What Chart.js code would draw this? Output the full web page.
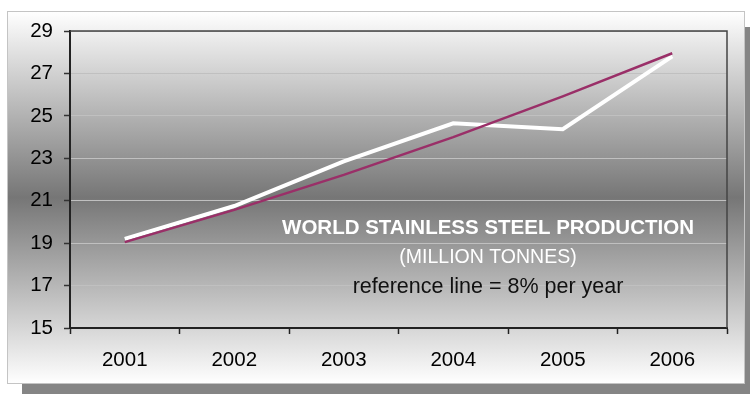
<!DOCTYPE html>
<html>
<head>
<meta charset="utf-8">
<script src="https://cdn.jsdelivr.net/npm/chart.js@4/dist/chart.umd.min.js"></script>
<style>
html,body{margin:0;padding:0;background:#fff;}
#wrap{width:750px;height:394px;position:relative;}
</style>
</head>
<body>
<div id="wrap"><canvas id="c" width="750" height="394"></canvas></div>
<script>
const years = ['2001','2002','2003','2004','2005','2006'];
const production = [19.2, 20.75, 22.85, 24.65, 24.37, 27.8];
const referenceLine = [19.05, 20.57, 22.22, 24.0, 25.92, 27.95];
const yTicks = [15, 17, 19, 21, 23, 25, 27, 29];
const titleLines = ['WORLD STAINLESS STEEL PRODUCTION', '(MILLION TONNES)', 'reference line = 8% per year'];

const FONT = '"Liberation Sans", Arial, Helvetica, sans-serif';

const framePlugin = {
  id: 'frame',
  beforeDraw(chart) {
    const ctx = chart.ctx;
    ctx.save();
    ctx.fillStyle = '#ffffff';
    ctx.fillRect(0, 0, 750, 394);
    ctx.fillStyle = '#858585';
    ctx.fillRect(745, 27, 6, 368);
    ctx.fillRect(22, 384, 729, 11);
    const g = ctx.createLinearGradient(0, 11, 0, 384);
    g.addColorStop(0, '#ffffff');
    g.addColorStop(0.5, '#767676');
    g.addColorStop(1, '#ffffff');
    ctx.fillStyle = g;
    ctx.fillRect(7, 11, 738, 373);
    ctx.strokeStyle = '#c4c4c4';
    ctx.lineWidth = 1;
    ctx.strokeRect(7.5, 11.5, 737, 372);
    ctx.restore();
  },
  afterDatasetsDraw(chart) {
    const ctx = chart.ctx;
    const a = chart.chartArea;
    ctx.save();
    ctx.strokeStyle = '#444444';
    ctx.lineWidth = 1.5;
    ctx.beginPath();
    ctx.moveTo(a.left, a.top);
    ctx.lineTo(a.right, a.top);
    ctx.lineTo(a.right, a.bottom);
    ctx.stroke();
    ctx.textAlign = 'center';
    ctx.textBaseline = 'alphabetic';
    const cx = 488;
    ctx.fillStyle = '#ffffff';
    ctx.font = 'bold 20.5px ' + FONT;
    ctx.fillText(titleLines[0], cx, 234);
    ctx.font = '19.5px ' + FONT;
    ctx.fillText(titleLines[1], cx, 263);
    ctx.fillStyle = '#111111';
    ctx.font = '21.5px ' + FONT;
    ctx.fillText(titleLines[2], cx, 292.5);
    ctx.restore();
  }
};

new Chart(document.getElementById('c'), {
  type: 'line',
  data: {
    labels: years,
    datasets: [
      {
        label: 'reference line',
        data: referenceLine,
        borderColor: '#9a2f68',
        borderWidth: 2.5,
        pointRadius: 0,
        tension: 0,
        fill: false
      },
      {
        label: 'production',
        data: production,
        borderColor: '#ffffff',
        borderWidth: 4,
        pointRadius: 0,
        tension: 0,
        fill: false
      }
    ]
  },
  options: {
    responsive: false,
    animation: false,
    devicePixelRatio: 1,
    layout: { padding: { left: 0, top: 31, right: 23, bottom: 0 } },
    plugins: { legend: { display: false }, tooltip: { enabled: false } },
    scales: {
      x: {
        type: 'category',
        offset: true,
        afterFit(s) { s.height = 66; },
        grid: { offset: true, drawOnChartArea: false, drawTicks: true, tickLength: 6, tickColor: '#222', tickWidth: 1.5 },
        border: { display: true, color: '#222', width: 2 },
        ticks: { color: '#000', font: { family: FONT, size: 20.5 }, padding: 14, maxRotation: 0 }
      },
      y: {
        min: 15, max: 29,
        afterFit(s) { s.width = 70; },
        afterBuildTicks(s) { s.ticks = yTicks.map(v => ({ value: v })); },
        grid: { color: '#c0c0c0', lineWidth: 1, drawTicks: true, tickLength: 6, tickColor: '#333', tickWidth: 1.5 },
        border: { display: true, color: '#222', width: 2 },
        ticks: { color: '#000', font: { family: FONT, size: 20.5 }, padding: 11 }
      }
    }
  },
  plugins: [framePlugin]
});
</script>
</body>
</html>
